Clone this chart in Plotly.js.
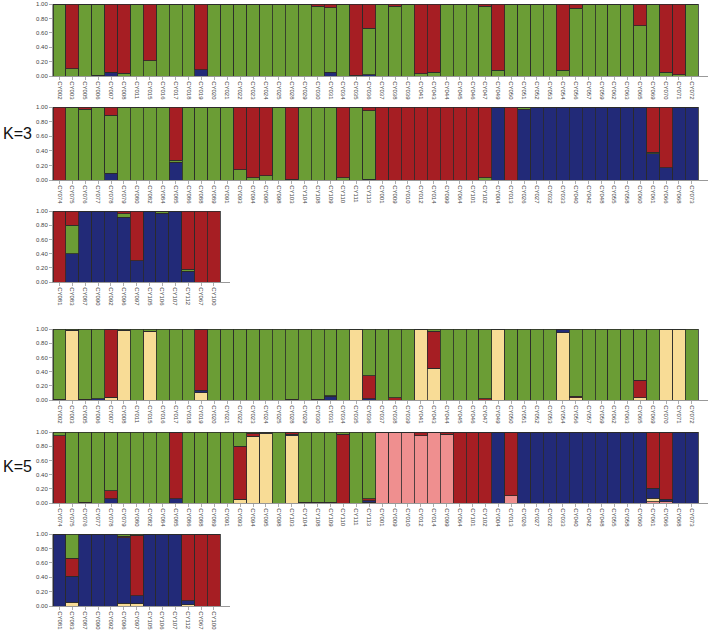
<!DOCTYPE html>
<html>
<head>
<meta charset="utf-8">
<script src="https://cdn.plot.ly/plotly-3.0.1.min.js"></script>
<style>html,body{margin:0;padding:0;background:#fff;}#chart{width:709px;height:631px;}</style>
</head>
<body>
<div id="chart"></div>
<script>
// ---------- sample labels ----------
const labelsRow1 = ["CY002","CY003","CY005","CY006","CY007","CY008","CY011","CY015","CY016","CY017","CY018","CY019","CY020","CY021","CY022","CY023","CY024","CY025","CY028","CY029","CY030","CY031","CY034","CY035","CY036","CY037","CY038","CY039","CY041","CY043","CY044","CY045","CY046","CY047","CY049","CY050","CY051","CY052","CY053","CY054","CY056","CY057","CY059","CY062","CY063","CY065","CY069","CY070","CY071","CY072"];
const labelsRow2 = ["CY074","CY075","CY076","CY077","CY078","CY079","CY080","CY082","CY084","CY085","CY086","CY088","CY089","CY091","CY093","CY094","CY095","CY098","CY103","CY104","CY108","CY109","CY110","CY111","CY113","CY001","CY009","CY010","CY012","CY014","CY099","CY064","CY101","CY102","CY004","CY013","CY026","CY027","CY032","CY033","CY040","CY042","CY048","CY055","CY058","CY060","CY061","CY066","CY068","CY073"];
const labelsRow3 = ["CY081","CY083","CY087","CY090","CY092","CY096","CY097","CY105","CY106","CY107","CY112","CY067","CY100"];

// ---------- K=3 membership (blue, green, red) ----------
const k3r1Blue  = [0,0,0,0.01,0.05,0,0,0,0,0, 0,0.09,0,0,0,0,0,0,0,0, 0,0.05,0,0,0.02,0,0,0,0,0, 0,0,0,0,0,0,0,0,0,0, 0,0,0,0,0,0,0,0,0,0];
const k3r1Green = [1,0.10,1,0.99,0,0.04,1,0.21,1,1, 1,0,1,1,1,1,1,1,1,1, 0.97,0.90,1,0.01,0.64,1,0.97,1,0.03,0.05, 1,1,1,0.97,0.08,1,1,1,1,0.08, 0.94,1,1,1,1,0.70,1,0.05,0.02,1];
const k3r1Red   = [0,0.90,0,0,0.95,0.96,0,0.79,0,0, 0,0.91,0,0,0,0,0,0,0,0, 0.03,0.05,0,0.99,0.34,0,0.03,0,0.97,0.95, 0,0,0,0.03,0.92,0,0,0,0,0.92, 0.06,0,0,0,0,0.30,0,0.95,0.98,0];

const k3r2Blue  = [0,0,0,0,0.09,0,0,0,0,0.24, 0,0,0,0,0,0,0,0,0,0, 0,0,0,0,0.01,0,0,0,0,0, 0,0,0,0,1,0,0.97,1,1,1, 1,1,1,1,1,0.99,0.36,0.17,1,1];
const k3r2Green = [0,1,0.97,1,0.80,1,1,1,1,0.03, 1,1,1,1,0.14,0.03,0.06,1,0.01,1, 1,1,0.03,1,0.94,0,0,0,0,0, 0,0,0,0.03,0,0,0.03,0,0,0, 0,0,0,0,0,0,0.02,0,0,0];
const k3r2Red   = [1,0,0.03,0,0.11,0,0,0,0,0.73, 0,0,0,0,0.86,0.97,0.94,0,0.99,0, 0,0,0.97,0,0.05,1,1,1,1,1, 1,1,1,0.97,0,1,0,0,0,0, 0,0,0,0,0,0.01,0.62,0.83,0,0];

const k3r3Blue  = [0,0.40,1,1,1,0.91,0.30,1,0.97,1,0.15,0,0];
const k3r3Green = [0,0.40,0,0,0,0.05,0,0,0.02,0,0.03,0,0];
const k3r3Red   = [1,0.20,0,0,0,0.04,0.70,0,0.01,0,0.82,1,1];

// ---------- K=5 membership (pink, yellow, blue, red, green) ----------
const k5r1Pink   = [0,0,0,0,0,0,0,0,0,0, 0,0,0,0,0,0,0,0,0,0, 0,0,0,0,0,0,0,0,0,0, 0,0,0,0,0,0,0,0,0,0, 0,0,0,0,0,0,0,0,0,0];
const k5r1Yellow = [0,0.98,0,0,0.04,0.98,0,0.97,0,0, 0,0.10,0,0,0,0,0,0,0,0, 0,0,0,0.99,0,0,0,0,0.99,0.45, 0,0,0,0,0.99,0,0,0,0,0.95, 0.03,0,0,0,0,0.03,0,0.99,0.99,0];
const k5r1Blue   = [0,0,0,0.02,0,0,0,0,0,0, 0,0.04,0,0,0,0,0,0,0,0, 0,0.05,0,0,0.02,0,0,0,0,0, 0,0,0,0,0,0,0,0,0,0.04, 0,0,0,0,0,0,0,0,0,0];
const k5r1Red    = [0.01,0,0.01,0,0.96,0,0,0,0,0, 0,0.86,0,0,0,0,0,0,0.01,0, 0.01,0.01,0,0,0.32,0,0.03,0,0,0.52, 0,0,0,0.02,0,0,0,0,0,0, 0.02,0,0,0,0,0.25,0,0,0,0];
const k5r1Green  = [0.99,0.02,0.99,0.98,0,0.02,1,0.03,1,1, 1,0,1,1,1,1,1,1,0.99,1, 0.99,0.94,1,0.01,0.66,1,0.97,1,0.01,0.03, 1,1,1,0.98,0.01,1,1,1,1,0.01, 0.95,1,1,1,1,0.72,1,0.01,0.01,1];

const k5r2Pink   = [0,0,0,0,0,0,0,0,0,0, 0,0,0,0,0,0,0,0,0,0, 0,0,0,0,0.01,1,1,1,0.95,1, 0.97,0,0,0,0,0.10,0,0,0,0, 0,0,0,0,0,0,0.02,0.02,0,0];
const k5r2Yellow = [0,0,0,0,0,0,0,0,0,0, 0,0,0,0,0.05,0.93,0.98,0,0.95,0, 0,0,0,0,0,0,0,0,0,0, 0,0,0,0,0,0,0,0,0,0, 0,0,0,0,0,0,0.05,0,0,0];
const k5r2Blue   = [0,0,0,0,0.06,0,0,0,0,0.06, 0,0,0,0,0,0.01,0.01,0,0.02,0, 0,0,0,0,0.02,0,0,0,0,0, 0,0,0,0,1,0,1,1,1,1, 1,1,1,1,1,1,0.14,0.03,1,1];
const k5r2Red    = [0.95,0,0.01,0,0.11,0,0,0,0,0.94, 0,0,0,0,0.75,0.04,0,0,0.02,0.01, 0.01,0.01,0.97,0,0.03,0,0,0,0.05,0, 0.03,1,1,1,0,0.90,0,0,0,0, 0,0,0,0,0,0,0.78,0.95,0,0];
const k5r2Green  = [0.05,1,0.99,1,0.83,1,1,1,1,0, 1,1,1,1,0.20,0.02,0.01,1,0.01,0.99, 0.99,0.99,0.03,1,0.94,0,0,0,0,0, 0,0,0,0,0,0,0,0,0,0, 0,0,0,0,0,0,0.01,0,0,0];

const k5r3Pink   = [0,0,0,0,0,0,0,0,0,0,0,0,0];
const k5r3Yellow = [0,0.05,0,0,0,0.04,0.03,0,0,0,0.02,0,0];
const k5r3Blue   = [1,0.36,1,1,1,0.91,0.11,1,0.99,1,0.05,0,0];
const k5r3Red    = [0,0.25,0,0,0,0.02,0.84,0,0,0,0.92,1,1];
const k5r3Green  = [0,0.34,0,0,0,0.03,0.02,0,0.01,0,0.01,0,0];

const yTicks = [0, 0.2, 0.4, 0.6, 0.8, 1.0];
const groupLabels = ["K=3", "K=5"];

// ---------- styling ----------
const C = {green:"#6B9D35", red:"#A61E23", blue:"#222A78", yellow:"#F8DC96", pink:"#EF8F8F"};
const W = 709, H = 631;
const rows = [
  {labels: labelsRow1, series: [[k3r1Blue,C.blue],[k3r1Green,C.green],[k3r1Red,C.red]], top: 4, bot: 76, right: 708},
  {labels: labelsRow2, series: [[k3r2Blue,C.blue],[k3r2Green,C.green],[k3r2Red,C.red]], top: 107, bot: 180, right: 708},
  {labels: labelsRow3, series: [[k3r3Blue,C.blue],[k3r3Green,C.green],[k3r3Red,C.red]], top: 211, bot: 282, right: 230},
  {labels: labelsRow1, series: [[k5r1Pink,C.pink],[k5r1Yellow,C.yellow],[k5r1Blue,C.blue],[k5r1Red,C.red],[k5r1Green,C.green]], top: 329, bot: 400, right: 708},
  {labels: labelsRow2, series: [[k5r2Pink,C.pink],[k5r2Yellow,C.yellow],[k5r2Blue,C.blue],[k5r2Red,C.red],[k5r2Green,C.green]], top: 432, bot: 503, right: 708},
  {labels: labelsRow3, series: [[k5r3Pink,C.pink],[k5r3Yellow,C.yellow],[k5r3Blue,C.blue],[k5r3Red,C.red],[k5r3Green,C.green]], top: 534, bot: 606, right: 230}
];

const left = 53;
const traces = [];
const layout = {
  width: W, height: H, margin: {l:0, r:0, t:0, b:0},
  paper_bgcolor: "#fff", plot_bgcolor: "#fff",
  barmode: "stack", bargap: 0, showlegend: false,
  font: {family: "Liberation Sans, Arial, sans-serif", size: 6, color: "#444"},
  annotations: []
};

rows.forEach((r, i) => {
  const n = i + 1;
  const xa = n === 1 ? "x" : "x" + n;
  const ya = n === 1 ? "y" : "y" + n;
  r.series.forEach(([vals, col]) => {
    traces.push({
      type: "bar", x: r.labels, y: vals, xaxis: xa, yaxis: ya,
      marker: {color: col, line: {color: "#2a2a2a", width: 0.8}},
      hoverinfo: "x+y"
    });
  });
  const nb = r.labels.length;
  const px0 = left, px1 = r.right;
  const barW = (px1 - px0);
  layout["xaxis" + (n === 1 ? "" : n)] = {
    domain: [px0 / W, px1 / W], anchor: ya,
    type: "category", categoryorder: "array", categoryarray: r.labels,
    range: [-0.5, nb - 0.5 + 0.75],
    tickangle: 90, tickfont: {size: 6, color: "#444"},
    ticks: "outside", ticklen: 3, tickcolor: "#999", tickwidth: 0.8,
    showline: true, linecolor: "#999", linewidth: 1,
    showgrid: false, zeroline: false, fixedrange: true
  };
  layout["yaxis" + (n === 1 ? "" : n)] = {
    domain: [1 - r.bot / H, 1 - r.top / H], anchor: xa,
    range: [0, 1], tickvals: yTicks, tickformat: ".2f",
    tickfont: {size: 6, color: "#444"},
    ticks: "outside", ticklen: 3, tickcolor: "#999", tickwidth: 0.8,
    showline: true, linecolor: "#999", linewidth: 1,
    showgrid: false, zeroline: false, fixedrange: true
  };
});

layout.annotations.push(
  {text: groupLabels[0], xref: "paper", yref: "paper", x: 1 / W, y: 1 - 134 / H, xanchor: "left", yanchor: "middle", showarrow: false, font: {size: 16, color: "#111", family: "Liberation Sans, Arial, sans-serif"}},
  {text: groupLabels[1], xref: "paper", yref: "paper", x: 1 / W, y: 1 - 467 / H, xanchor: "left", yanchor: "middle", showarrow: false, font: {size: 16, color: "#111", family: "Liberation Sans, Arial, sans-serif"}}
);

Plotly.newPlot("chart", traces, layout, {displayModeBar: false, staticPlot: true});
</script>
</body>
</html>
